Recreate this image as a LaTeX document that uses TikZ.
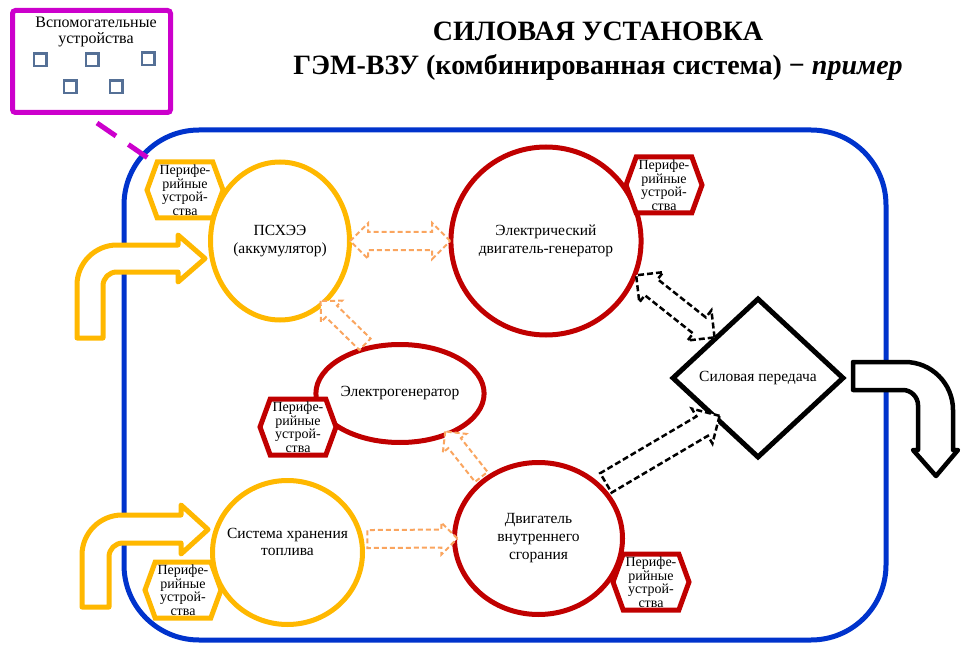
\documentclass[tikz,border=0pt]{standalone}
\usepackage{fontspec}
\setmainfont{Liberation Serif}
\usepackage{tikz}
\usetikzlibrary{shapes.geometric,shapes.arrows,shapes.symbols}

\definecolor{fuelyellow}{RGB}{255,184,0}
\definecolor{motorred}{RGB}{192,0,0}
\definecolor{plantblue}{RGB}{0,51,204}
\definecolor{auxmagenta}{RGB}{204,0,204}
\definecolor{flowamber}{RGB}{250,165,95}
\definecolor{devgrey}{RGB}{85,112,150}

\begin{document}
\begin{tikzpicture}[x=1pt,y=-1pt,
   unit/.style={ellipse, draw=#1, line width=5pt, fill=white, inner sep=0pt,
     align=center, font=\fontsize{15.5}{18}\selectfont},
   periph/.style={signal, signal to=east and west, signal pointer angle=140,
     draw=#1, line width=5pt, fill=white, minimum width=76pt, minimum height=56pt,
     inner sep=0pt, align=center, font=\fontsize{14}{13.5}\selectfont},
   elflow/.style={draw=flowamber, fill=white, dashed, dash pattern=on 5pt off 3pt,
     line width=2pt, inner xsep=0pt, allow upside down},
   mechflow/.style={draw=black, fill=white, dashed, dash pattern=on 6pt off 3pt,
     line width=2.5pt, inner xsep=0pt, allow upside down},
   bentarrow/.style={draw=#1, line width=5pt, fill=white, line join=round},
   auxdev/.style={draw=devgrey, line width=2.5pt, minimum size=12.5pt, inner sep=0pt}]
   \useasboundingbox (0,0) rectangle (961,647);

   % title
   \node[align=center, font=\fontsize{28}{34}\selectfont\bfseries] (title) at (598,51)
     {СИЛОВАЯ УСТАНОВКА\\ГЭМ-ВЗУ (комбинированная система) − \textit{пример}};

   % auxiliary devices
   \node[draw=auxmagenta, line width=5pt, rounded corners=3pt, minimum width=158pt,
     minimum height=102pt] (aux) at (91.5,61.5) {};
   \node[align=center, font=\fontsize{16}{16}\selectfont] (auxtext) at (96,32)
     {Вспомогательные\\устройства};
   \foreach \x/\y [count=\i] in {40/60, 92/60, 148/59, 70/87, 116/87}
     \node[auxdev] (dev\i) at (\x,\y) {};

   % power plant frame
   \node[draw=plantblue, line width=5pt, rounded corners=75pt, minimum width=762pt,
     minimum height=510pt] (plant) at (505,385) {};
   \coordinate (auxfoot) at (97,123);
   \coordinate (plantcorner) at (148,158);
   \draw[auxmagenta, line width=5pt, dash pattern=on 23pt off 15pt] (auxfoot) -- (plantcorner);

   % inputs and output
   \draw[bentarrow=fuelyellow] (77,338) -- (77,285) .. controls (77,263) and (95,245) .. (117,245)
     -- (178,245) -- (178,235) -- (205,258.5) -- (178,282) -- (178,272) -- (117,272)
     .. controls (109,272) and (103,278) .. (103,286) -- (103,338) -- cycle;
   \draw[bentarrow=fuelyellow] (82,607) -- (82,555) .. controls (82,533) and (100,515) .. (122,515)
     -- (181,515) -- (181,505) -- (208,529.5) -- (181,554) -- (181,543) -- (123,543)
     .. controls (115,543) and (109,549) .. (109,557) -- (109,607) -- cycle;
   \draw[bentarrow=black, line width=4.5pt] (853,362) -- (905,362)
     .. controls (931.5,362) and (953,383.5) .. (953,410) -- (953,450) -- (958,450)
     -- (936,476) -- (913,450) -- (918,450) -- (918,405)
     .. controls (918,397) and (911,390) .. (903,390) -- (853,390) -- cycle;

   % units
   \node[unit=fuelyellow, minimum width=139pt, minimum height=158pt] (psx) at (280,241)
     {ПСХЭЭ\\(аккумулятор)};
   \node[unit=motorred, minimum width=190pt, minimum height=188pt] (emg) at (546,241)
     {Электрический\\двигатель-генератор};
   \node[unit=motorred, minimum width=151pt, minimum height=98pt] (eg) at (400,393.5)
     {Электрогенератор};
   \node[unit=fuelyellow, minimum width=150pt, minimum height=144pt] (sys) at (287.5,552.5) {};
   \node[align=center, font=\fontsize{15.5}{17}\selectfont] (systext) at ([yshift=11pt]sys.center)
     {Система хранения\\топлива};
   \node[unit=motorred, minimum width=168pt, minimum height=152pt] (dvs) at (538.5,538.5)
     {Двигатель\\внутреннего\\сгорания};
   \node[diamond, draw, line width=5pt, fill=white, inner sep=0pt, minimum width=172pt,
     minimum height=160pt, font=\fontsize{15.5}{18}\selectfont] (trans) at (758,378)
     {Силовая передача};

   % peripherals
   \node[periph=fuelyellow] (perpsx) at (185,190) {Перифе-\\рийные\\устрой-\\ства};
   \node[periph=motorred] (peremg) at (664,185) {Перифе-\\рийные\\устрой-\\ства};
   \node[periph=motorred] (pereg) at (298,427) {Перифе-\\рийные\\устрой-\\ства};
   \node[periph=fuelyellow] (persys) at (183,590) {Перифе-\\рийные\\устрой-\\ства};
   \node[periph=motorred] (perdvs) at (651,582) {Перифе-\\рийные\\устрой-\\ства};

   % energy flows
   \path (psx.east) -- (emg.west) node[midway, sloped, double arrow, elflow,
     minimum height=100pt, inner ysep=8pt, double arrow head extend=9pt] (flow1) {};
   \path (eg.125) -- (psx.-55) node[midway, sloped, single arrow, elflow,
     minimum height=62pt, inner ysep=7pt, single arrow head extend=7pt] (flow2) {};
   \path (dvs.133) -- (eg.-41) node[midway, sloped, single arrow, elflow,
     minimum height=58pt, inner ysep=7pt, single arrow head extend=7pt] (flow3) {};
   \path (sys.10) -- (dvs.180) node[midway, sloped, single arrow, elflow,
     minimum height=90pt, inner ysep=8pt, single arrow head extend=7pt] (flow4) {};
   \path (emg.-21) -- (trans.north west) node[midway, sloped, double arrow, mechflow,
     minimum height=100pt, inner ysep=9pt, double arrow head extend=9pt] (flow5) {};
   \path (dvs.40) -- (trans.south west) node[midway, sloped, single arrow, mechflow,
     minimum height=132pt, inner ysep=10pt, single arrow head extend=9pt] (flow6) {};
\end{tikzpicture}
\end{document}
